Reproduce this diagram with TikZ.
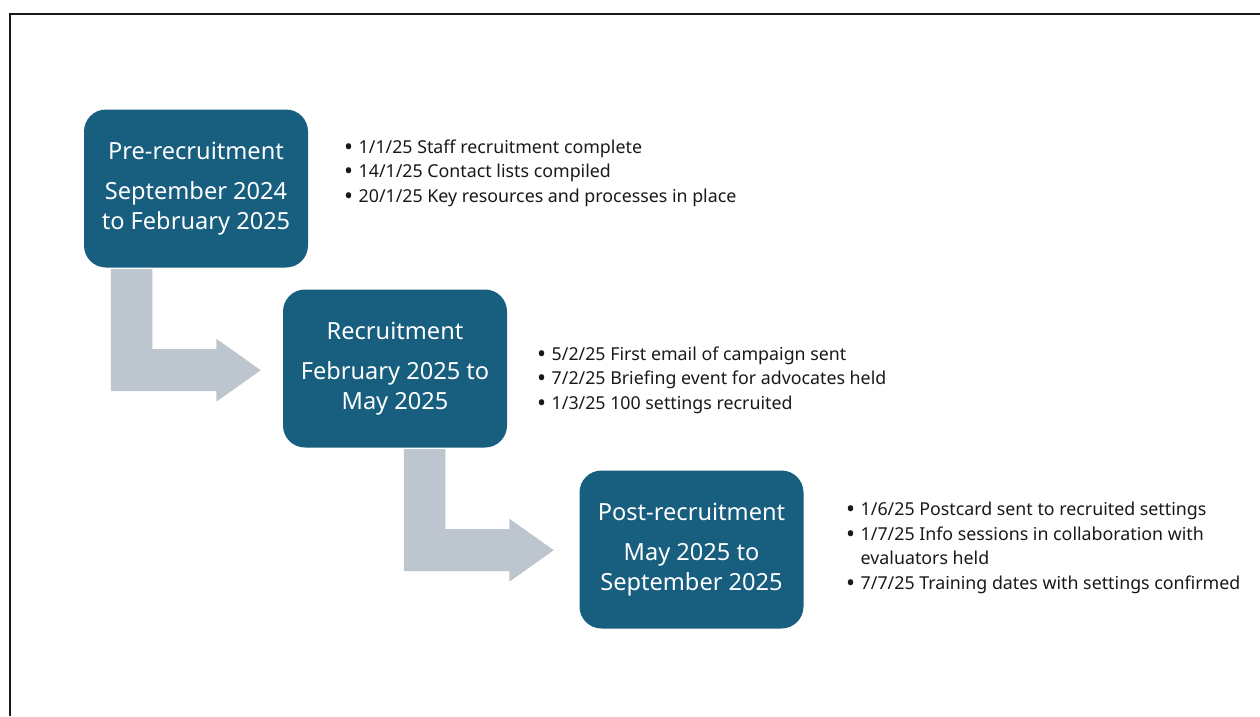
\documentclass[tikz,border=0pt]{standalone}
\usepackage{fontspec}
\usetikzlibrary{calc}
\setmainfont{Noto Sans}
\definecolor{stageblue}{HTML}{175E7F}
\definecolor{flowgrey}{HTML}{BDC5CE}
\newcommand{\itemdot}{\makebox[14.5pt][l]{\raisebox{-1.9pt}{\scalebox{1.35}{\textbullet}}}}
\begin{document}
\begin{tikzpicture}[x=1pt,y=-1pt,
  stage/.style={fill=stageblue, rounded corners=22pt, minimum width=224pt,
    minimum height=158pt, inner sep=0pt, text=white, align=center,
    font=\fontsize{23.6}{30}\selectfont},
  notes/.style={anchor=west, align=left, inner sep=0pt, text=black!90,
    font=\fontsize{17.8}{24.5}\selectfont}]
\useasboundingbox (0,0) rectangle (1260,716);
% frame
\draw[line width=2pt, black!90] (10,716) -- (10,14) -- (1260,14);

% stages
\node[stage] (pre)  at (196,188.5) {Pre-recruitment\\[9.5pt]September 2024\\to February 2025};
\node[stage] (rec)  at (395,368.5) {Recruitment\\[9.5pt]February 2025 to\\May 2025};
\node[stage] (post) at (691.5,549.5) {Post-recruitment\\[9.5pt]May 2025 to\\September 2025};

% bent block arrow leaving the bottom of a stage, shaft offset #2 from its left edge
\newcommand{\bentflow}[2]{%
  \fill[flowgrey] ($(#1.south west)+(#2,1.5)$)
    -- ++(41.5,0) -- ++(0,80) -- ++(64,0) -- ++(0,-10.5)
    -- ++(44.5,31.5) -- ++(-44.5,31.5) -- ++(0,-10.5)
    -- ++(-105.5,0) -- cycle;}
\bentflow{pre}{27}
\bentflow{rec}{121}

% milestones
\node[notes] (prenotes) at (344,173) {%
  \itemdot 1/1/25 Staff recruitment complete\\
  \itemdot 14/1/25 Contact lists compiled\\
  \itemdot 20/1/25 Key resources and processes in place};
\node[notes] (recnotes) at (537,380) {%
  \itemdot 5/2/25 First email of campaign sent\\
  \itemdot 7/2/25 Briefing event for advocates held\\
  \itemdot 1/3/25 100 settings recruited};
\node[notes] (postnotes) at (846,548) {%
  \itemdot 1/6/25 Postcard sent to recruited settings\\
  \itemdot 1/7/25 Info sessions in collaboration with\\
  \hspace*{14.5pt}evaluators held\\
  \itemdot 7/7/25 Training dates with settings confirmed};
\end{tikzpicture}
\end{document}
